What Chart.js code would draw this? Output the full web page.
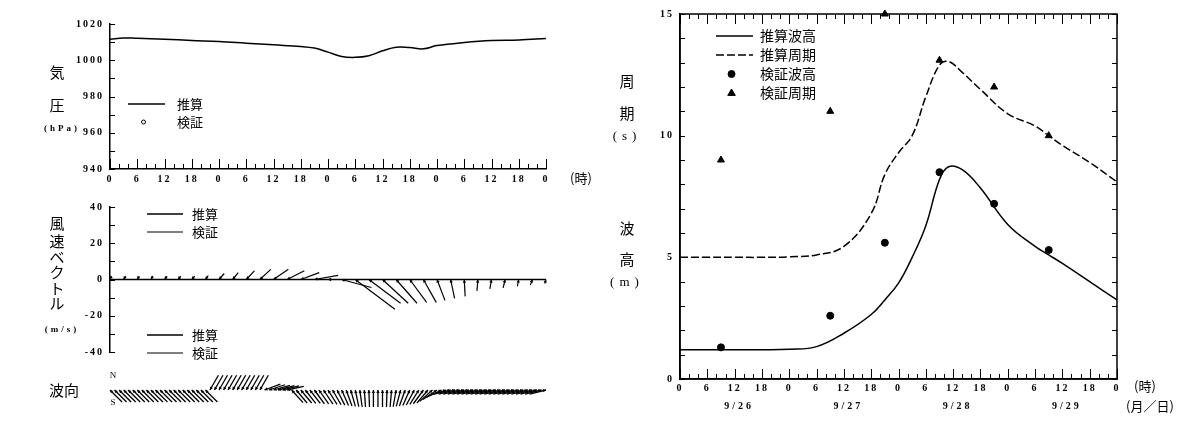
<!DOCTYPE html>
<html lang="ja">
<head>
<meta charset="utf-8">
<title>波浪推算</title>
<script src="https://cdn.jsdelivr.net/npm/chart.js@4.4.1/dist/chart.umd.min.js"></script>
<style>
  html, body { margin: 0; padding: 0; background: #fff; }
  body { width: 1200px; height: 427px; position: relative; overflow: hidden; }
  .panel { position: absolute; }
</style>
</head>
<body>
<div class="panel" style="left:0;top:0;width:600px;height:195px"><canvas id="kiatsu"></canvas></div>
<div class="panel" style="left:0;top:195px;width:600px;height:170px"><canvas id="kaze"></canvas></div>
<div class="panel" style="left:0;top:365px;width:600px;height:62px"><canvas id="hakou"></canvas></div>
<div class="panel" style="left:600px;top:0;width:600px;height:427px"><canvas id="harou"></canvas></div>
<script>
// ---- 気圧 (時刻 h, hPa) ----
const presHours = [0, 3, 6, 12, 18, 24, 30, 36, 42, 45, 48, 51, 54, 57, 60, 63, 66, 69, 72, 78, 84, 90, 96];
const presCalc  = [1011.6, 1012.3, 1012.1, 1011.6, 1010.9, 1010.3, 1009.4, 1008.5, 1007.6, 1006.7, 1004.5, 1002.1,
                   1001.6, 1002.5, 1005.2, 1007.2, 1007.0, 1006.3, 1008.1, 1009.8, 1010.9, 1011.2, 1012.0];

// ---- 風速ベクトル (3時間毎, m/s) ----
const windHours = [0, 3, 6, 9, 12, 15, 18, 21, 24, 27, 30, 33, 36, 39, 42, 45, 48, 51, 54, 57, 60, 63, 66, 69, 72, 75, 78, 81, 84, 87, 90, 93, 96];
const windU = [0.8, 1.1, 1.1, 1.1, 1.4, 1.4, 1.6, 1.6, 2.9, 3.1, 4.5, 6.0, 8.2, 9.5, 10.2, 13.1, 2.2,
               16.4, 21.9, 17.5, 14.2, 11.5, 9.3, 7.1, 4.4, 2.2, 0.5, -0.5, -0.9, -1.1, -0.8, -1.1, -0.7];
const windV = [1.9, 1.9, 1.9, 1.9, 1.9, 1.9, 1.9, 2.2, 3.3, 3.8, 4.8, 5.6, 5.6, 4.8, 3.8, 2.3, 0,
               -4.4, -16.4, -13.1, -13.1, -13.1, -12.6, -12.6, -11.5, -10.4, -9.3, -6.3, -5.2, -4.6, -3.8, -3.1, -2.2];

// ---- 波向 (1時間毎, 度: 0=N 上, 90=右, 180=S 下) ----
const waveDir = [
  135, 135, 135, 135, 135, 135, 135, 135, 135, 135, 135, 135, 135, 135, 135, 135, 135, 135, 135, 135, 135, 135,
  30, 30, 30, 30, 30, 30, 30, 30, 30, 30, 30, 30,
  70, 72, 74, 75, 76, 78,
  138, 140, 140, 142, 142, 144, 145, 146,
  148, 150, 153, 156, 160, 164, 168, 172,
  176, 178, 180, 180, 180, 182, 185,
  190, 195, 200, 204, 208, 212, 216, 220,
  228, 236, 244, 252,
  256, 256, 256, 256, 256, 256, 256, 256, 256, 256, 256, 256, 256, 256, 256, 256, 256, 256, 256, 256, 256, 256
];

// ---- 波高・周期 ----
const calcHours   = [0, 6, 12, 18, 24, 30, 36, 42, 45, 48, 51, 54, 57, 59, 62, 66, 72, 78, 81, 84, 90, 96];
const waveHeight  = [1.2, 1.2, 1.2, 1.2, 1.22, 1.33, 1.88, 2.65, 3.25, 3.94, 5.0, 6.3, 8.2, 8.72, 8.6, 7.85, 6.35, 5.45, 5.1, 4.75, 4.0, 3.25];
const wavePeriod  = [5.0, 5.0, 5.0, 5.0, 5.02, 5.1, 5.45, 6.8, 8.4, 9.3, 10.0, 11.6, 12.9, 13.05, 12.6, 11.9, 10.9, 10.4, 10.0, 9.6, 8.9, 8.1];
const obsHours    = [9, 33, 45, 57, 69, 81];
const obsHeight   = [1.3, 2.6, 5.6, 8.5, 7.2, 5.3];
const obsPeriod   = [9.0, 11.0, 15.0, 13.1, 12.0, 10.0];
const dateLabels  = ['9/26', '9/27', '9/28', '9/29'];

const JP = '"Noto Sans CJK JP"';
const SERIF = '"Liberation Serif"';
Chart.defaults.font.family = SERIF;
Chart.defaults.color = '#000';
Chart.defaults.animation = false;

const pts = (xs, ys) => xs.map((x, i) => ({ x: x, y: ys[i] }));
const hourLabel = v => String(v % 24);

// 内向きの目盛りと枠
const uchiMemori = {
  id: 'uchiMemori',
  afterDatasetsDraw(chart, args, opts) {
    const ctx = chart.ctx, a = chart.chartArea;
    ctx.save();
    ctx.strokeStyle = '#000';
    ctx.lineWidth = 1;
    ctx.beginPath();
    for (const m of opts.marks || []) {
      const sc = chart.scales[m.axis];
      const n = Math.round((sc.max - sc.min) / m.step);
      for (let i = 0; i <= n; i++) {
        const v = sc.min + i * m.step;
        const big = m.major && Math.abs(v % m.major) < 1e-6;
        const len = big ? m.big : m.small;
        const p = Math.round(sc.getPixelForValue(v)) + 0.5;
        for (const s of m.sides) {
          if (s === 'bottom') { ctx.moveTo(p, a.bottom); ctx.lineTo(p, a.bottom - len); }
          if (s === 'top') { ctx.moveTo(p, a.top); ctx.lineTo(p, a.top + len); }
          if (s === 'left') { ctx.moveTo(a.left, p); ctx.lineTo(a.left + len, p); }
          if (s === 'right') { ctx.moveTo(a.right, p); ctx.lineTo(a.right - len, p); }
        }
      }
    }
    ctx.stroke();
    ctx.lineWidth = 1.5;
    if (opts.frame) ctx.strokeRect(a.left, a.top, a.right - a.left, a.bottom - a.top);
    if (opts.zeroLine) {
      const y0 = chart.scales.y.getPixelForValue(0);
      ctx.beginPath(); ctx.moveTo(a.left, y0); ctx.lineTo(a.right, y0); ctx.stroke();
    }
    ctx.restore();
  }
};

// 文字（軸名など）
const moji = {
  id: 'moji',
  beforeDraw(chart) { chart.ctx.letterSpacing = '2px'; },
  afterDraw(chart, args, opts) {
    const ctx = chart.ctx;
    ctx.save();
    ctx.fillStyle = '#000';
    ctx.textBaseline = 'middle';
    for (const t of opts.items || []) {
      ctx.font = t.font;
      ctx.letterSpacing = t.ls || '0px';
      ctx.textAlign = t.align || 'center';
      ctx.fillText(t.text, t.x, t.y);
    }
    if (opts.dates) {
      const xs = chart.scales.x;
      ctx.font = 'bold 10px ' + SERIF;
      ctx.letterSpacing = '3px';
      ctx.textAlign = 'center';
      opts.dates.forEach((d, i) => ctx.fillText(d, xs.getPixelForValue(24 * i + 13), opts.datesY));
    }
    ctx.restore();
  }
};

function marker(ctx, kind, x, y, r, fill) {
  ctx.beginPath();
  if (kind === 'triangle') {
    ctx.moveTo(x, y - r);
    ctx.lineTo(x + r * 0.95, y + r * 0.6);
    ctx.lineTo(x - r * 0.95, y + r * 0.6);
    ctx.closePath();
  } else {
    ctx.arc(x, y, r, 0, Math.PI * 2);
  }
  ctx.fillStyle = fill;
  ctx.fill();
  ctx.lineWidth = 1;
  ctx.stroke();
}

// 凡例
const hanrei = {
  id: 'hanrei',
  afterDraw(chart, args, opts) {
    const ctx = chart.ctx;
    ctx.save();
    ctx.strokeStyle = '#000';
    ctx.font = opts.font;
    ctx.letterSpacing = '0px';
    ctx.textBaseline = 'middle';
    ctx.textAlign = 'left';
    for (const b of opts.blocks) {
      chart.data.datasets.forEach((ds, i) => {
        const y = b.y + i * b.gap;
        if (ds.kind === 'line') {
          ctx.lineWidth = ds.borderWidth || 1.5;
          ctx.setLineDash(ds.borderDash || []);
          ctx.beginPath(); ctx.moveTo(b.x, y); ctx.lineTo(b.x + b.len, y); ctx.stroke();
          ctx.setLineDash([]);
        } else {
          marker(ctx, ds.kind, b.x + b.len * 0.42, y, ds.pointRadius, ds.pointBackgroundColor);
        }
        ctx.fillStyle = '#000';
        ctx.fillText(ds.label, b.tx, y);
      });
    }
    ctx.restore();
  }
};

// ベクトル（基点に矢じり）
const yajirushi = {
  id: 'yajirushi',
  afterDatasetsDraw(chart, args, opts) {
    const ctx = chart.ctx, xs = chart.scales.x, ys = chart.scales.y;
    const unit = ys.getPixelForValue(0) - ys.getPixelForValue(1);
    ctx.save();
    ctx.strokeStyle = '#000';
    ctx.fillStyle = '#000';
    ctx.lineWidth = opts.width || 1;
    chart.data.datasets.forEach(ds => {
      ds.data.forEach(p => {
        const bx = xs.getPixelForValue(p.x), by = ys.getPixelForValue(p.y);
        const tx = bx + p.u * unit, ty = by - p.v * unit;
        ctx.beginPath(); ctx.moveTo(bx, by); ctx.lineTo(tx, ty); ctx.stroke();
        const ang = Math.atan2(by - ty, bx - tx), s = opts.head;
        ctx.beginPath();
        ctx.moveTo(bx, by);
        ctx.lineTo(bx - s * Math.cos(ang - 0.5), by - s * Math.sin(ang - 0.5));
        ctx.lineTo(bx - s * Math.cos(ang + 0.5), by - s * Math.sin(ang + 0.5));
        ctx.closePath();
        ctx.fill();
      });
    });
    ctx.restore();
  }
};

const numFont = { size: 10, weight: 'bold', family: SERIF };
const kanji = '15px ' + JP;

// ===== 気圧 =====
new Chart(document.getElementById('kiatsu'), {
  type: 'line',
  data: {
    datasets: [
      { label: '推算', kind: 'line', data: pts(presHours, presCalc), borderColor: '#000', borderWidth: 1.5,
        pointRadius: 0, tension: 0.4 },
      { label: '検証', kind: 'circle', data: [], showLine: false, pointRadius: 2,
        pointBackgroundColor: '#fff', borderColor: '#000' }
    ]
  },
  options: {
    responsive: true, maintainAspectRatio: false,
    layout: { padding: { top: 24, right: 54, bottom: 0, left: 0 } },
    scales: {
      x: { type: 'linear', min: 0, max: 96,
           ticks: { stepSize: 6, autoSkip: false, maxRotation: 0, padding: 4, font: numFont, callback: hourLabel },
           grid: { display: false, drawTicks: false }, border: { color: '#000', width: 1.5 },
           afterFit: s => { s.height = 26; } },
      y: { min: 940, max: 1020,
           ticks: { stepSize: 20, padding: 6, font: numFont, callback: v => String(v) },
           grid: { display: false, drawTicks: false }, border: { color: '#000', width: 1.5 },
           afterFit: s => { s.width = 110; } }
    },
    plugins: {
      legend: { display: false }, tooltip: { enabled: false },
      uchiMemori: { marks: [
        { axis: 'x', step: 2, major: 6, small: 5, big: 10, sides: ['bottom'] },
        { axis: 'y', step: 10, small: 5, sides: ['left'] } ] },
      hanrei: { font: '13px ' + JP, blocks: [{ x: 128, len: 37, tx: 177, y: 104, gap: 18 }] },
      moji: { items: [
        { text: '気', x: 57, y: 72, font: kanji },
        { text: '圧', x: 57, y: 105, font: kanji },
        { text: '(hPa)', x: 62, y: 129, font: 'bold 9px ' + SERIF, ls: '3px' },
        { text: '(時)', x: 581, y: 178, font: '13px ' + JP } ] }
    }
  },
  plugins: [uchiMemori, hanrei, moji]
});

// ===== 風速ベクトル =====
new Chart(document.getElementById('kaze'), {
  type: 'scatter',
  data: {
    datasets: [
      { label: '推算', kind: 'line', borderWidth: 1.5, pointRadius: 0,
        data: windHours.map((h, i) => ({ x: h, y: 0, u: windU[i], v: windV[i] })) },
      { label: '検証', kind: 'line', borderWidth: 1.2, pointRadius: 0, data: [] }
    ]
  },
  options: {
    responsive: true, maintainAspectRatio: false,
    layout: { padding: { top: 11, right: 54, bottom: 13, left: 0 } },
    scales: {
      x: { type: 'linear', min: 0, max: 96, display: false },
      y: { min: -40, max: 40,
           ticks: { stepSize: 20, padding: 6, font: numFont, callback: v => String(v) },
           grid: { display: false, drawTicks: false }, border: { color: '#000', width: 1.5 },
           afterFit: s => { s.width = 110; } }
    },
    plugins: {
      legend: { display: false }, tooltip: { enabled: false },
      uchiMemori: { zeroLine: true, marks: [{ axis: 'y', step: 10, small: 5, sides: ['left'] }] },
      yajirushi: { head: 3.5, width: 1.2 },
      hanrei: { font: '13px ' + JP, blocks: [
        { x: 147, len: 36, tx: 192, y: 19, gap: 18 },
        { x: 147, len: 36, tx: 192, y: 140, gap: 18 } ] },
      moji: { items: [
        { text: '風', x: 57, y: 28, font: kanji },
        { text: '速', x: 57, y: 46, font: kanji },
        { text: 'ベ', x: 57, y: 62, font: kanji },
        { text: 'ク', x: 57, y: 77, font: kanji },
        { text: 'ト', x: 57, y: 93, font: kanji },
        { text: 'ル', x: 57, y: 108, font: kanji },
        { text: '(m/s)', x: 62, y: 135, font: 'bold 9px ' + SERIF, ls: '3px' } ] }
    }
  },
  plugins: [uchiMemori, yajirushi, hanrei, moji]
});

// ===== 波向 =====
new Chart(document.getElementById('hakou'), {
  type: 'scatter',
  data: {
    datasets: [
      { label: '波向', pointRadius: 0,
        data: waveDir.map((a, h) => ({ x: h, y: 0, u: Math.sin(a * Math.PI / 180), v: Math.cos(a * Math.PI / 180) })) }
    ]
  },
  options: {
    responsive: true, maintainAspectRatio: false,
    layout: { padding: { top: 8, right: 54, bottom: 20, left: 110 } },
    scales: {
      x: { type: 'linear', min: 0, max: 96, display: false },
      y: { min: -1, max: 1, display: false }
    },
    plugins: {
      legend: { display: false }, tooltip: { enabled: false },
      yajirushi: { head: 3.5, width: 1.3 },
      moji: { items: [
        { text: '波向', x: 64, y: 25, font: kanji },
        { text: 'N', x: 113, y: 11, font: '9px ' + SERIF },
        { text: 'S', x: 113, y: 38, font: '9px ' + SERIF } ] }
    }
  },
  plugins: [yajirushi, moji]
});

// ===== 波高・周期 =====
new Chart(document.getElementById('harou'), {
  type: 'line',
  data: {
    datasets: [
      { label: '推算波高', kind: 'line', data: pts(calcHours, waveHeight), borderColor: '#000', borderWidth: 1.5,
        pointRadius: 0, tension: 0.4 },
      { label: '推算周期', kind: 'line', data: pts(calcHours, wavePeriod), borderColor: '#000', borderWidth: 1.5,
        borderDash: [8, 3], pointRadius: 0, tension: 0.4 },
      { label: '検証波高', kind: 'circle', data: pts(obsHours, obsHeight), showLine: false, clip: false,
        pointStyle: 'circle', pointRadius: 3.5, pointBackgroundColor: '#000', borderColor: '#000' },
      { label: '検証周期', kind: 'triangle', data: pts(obsHours, obsPeriod), showLine: false, clip: false,
        pointStyle: 'triangle', pointRadius: 4, pointBackgroundColor: '#000', borderColor: '#000' }
    ]
  },
  options: {
    responsive: true, maintainAspectRatio: false,
    layout: { padding: { top: 14, right: 83, bottom: 0, left: 0 } },
    scales: {
      x: { type: 'linear', min: 0, max: 96,
           ticks: { stepSize: 6, autoSkip: false, maxRotation: 0, padding: 3, font: numFont, callback: hourLabel },
           grid: { display: false, drawTicks: false }, border: { color: '#000', width: 1.5 },
           afterFit: s => { s.height = 48; } },
      y: { min: 0, max: 15,
           ticks: { stepSize: 5, padding: 6, font: numFont, callback: v => String(v) },
           grid: { display: false, drawTicks: false }, border: { color: '#000', width: 1.5 },
           afterFit: s => { s.width = 80; } }
    },
    plugins: {
      legend: { display: false }, tooltip: { enabled: false },
      uchiMemori: { frame: true, marks: [
        { axis: 'x', step: 2, major: 6, small: 5, big: 10, sides: ['bottom', 'top'] },
        { axis: 'y', step: 1, small: 5, sides: ['left', 'right'] } ] },
      hanrei: { font: '14px ' + JP, blocks: [{ x: 116, len: 37, tx: 160, y: 36, gap: 19 }] },
      moji: { dates: dateLabels, datesY: 406, items: [
        { text: '周', x: 27, y: 81, font: kanji },
        { text: '期', x: 27, y: 113, font: kanji },
        { text: '(s)', x: 27, y: 137, font: '13px ' + SERIF, ls: '5px' },
        { text: '波', x: 27, y: 228, font: kanji },
        { text: '高', x: 27, y: 259, font: kanji },
        { text: '(m)', x: 27, y: 283, font: '13px ' + SERIF, ls: '5px' },
        { text: '(時)', x: 545, y: 386, font: '13px ' + JP },
        { text: '(月／日)', x: 550, y: 406, font: '13px ' + JP } ] }
    }
  },
  plugins: [uchiMemori, hanrei, moji]
});
</script>
</body>
</html>
